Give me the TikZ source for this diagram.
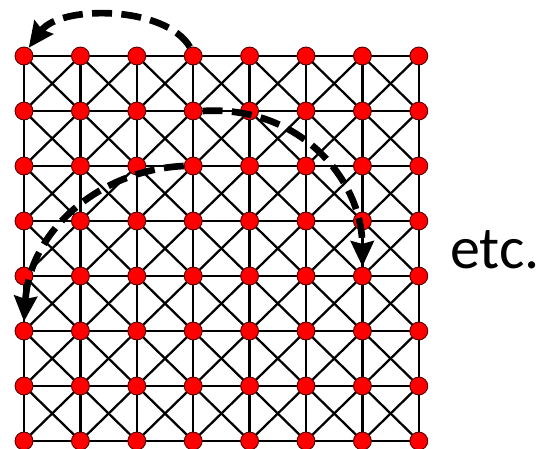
\documentclass[tikz,border=0pt]{standalone}
\usepackage{fontspec}
\setmainfont{Carlito}
\usetikzlibrary{arrows.meta,backgrounds}

\begin{document}
\begin{tikzpicture}[
  x=0.75pt, y=-0.75pt,
  dot/.style={circle, draw=red!35!black, line width=0.7pt, fill=red,
              inner sep=0pt, minimum size=13.4pt},
  link/.style={line width=1.7pt, black},
  jump/.style={line width=5pt, dash pattern=on 15pt off 7pt,
               -{Stealth[length=19pt, width=17pt, inset=2pt]}},
]
\useasboundingbox (0,0) rectangle (546,449);

% 8x8 lattice of sites
\foreach \i in {0,...,7}
  \foreach \j in {0,...,7}
    \node[dot] (n-\i-\j) at ({24+56.4*\i},{56+55*\j}) {};

% bonds: rows, columns and both diagonals of each cell
\begin{scope}[on background layer]
  \foreach \i in {0,...,7}{
    \draw[link] (n-0-\i.center) -- (n-7-\i.center);
    \draw[link] (n-\i-0.center) -- (n-\i-7.center);
  }
  \foreach \i in {0,...,6}{
    \foreach \j in {0,...,6}{
      \pgfmathtruncatemacro{\k}{\i+1}
      \pgfmathtruncatemacro{\l}{\j+1}
      \draw[link] (n-\i-\j.center) -- (n-\k-\l.center);
      \draw[link] (n-\k-\j.center) -- (n-\i-\l.center);
    }
  }
\end{scope}

% moves
\draw[jump] (n-3-0.110) .. controls (165,5) and (60,5) .. (n-0-0.60);
\draw[jump] (n-3-1.east) .. controls (300,105) and (362,180) .. (n-6-4.north);
\draw[jump] (n-3-2.west) .. controls (100,170) and (30,230) .. (n-0-5.north);

\node[anchor=base west, inner sep=0pt, font=\fontsize{45pt}{50pt}\selectfont]
  (etc) at (450,268) {etc.};
\end{tikzpicture}
\end{document}
